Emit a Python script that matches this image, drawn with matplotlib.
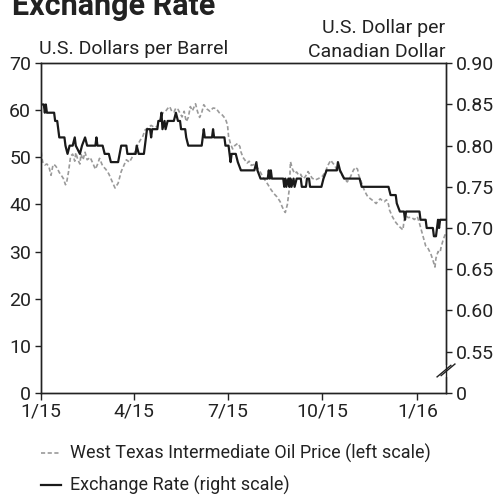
import matplotlib
matplotlib.use('Agg')
import matplotlib.pyplot as plt
import pandas as pd

plt.rcParams['font.family'] = ['Roboto', 'DejaVu Sans']

START = pd.Timestamp('2015-01-01')

# exchange rate, U.S. dollar per Canadian dollar (days after 1 Jan 2015)
er_day = [0, 3, 4, 5, 6, 13, 14, 16, 18, 23, 24, 26, 28, 31, 33, 34, 38, 40, 43, 45,
          53, 54, 55, 60, 62, 66, 68, 75, 78, 83, 84, 92, 93, 95, 100, 103, 106, 107, 108, 113,
          114, 116, 117, 118, 120, 121, 123, 129, 131, 133, 135, 136, 140, 141, 143, 156, 158, 159, 166, 167,
          168, 178, 179, 182, 184, 185, 189, 191, 194, 207, 209, 210, 213, 220, 221, 222, 223, 224, 235, 236,
          237, 238, 240, 241, 242, 243, 245, 246, 248, 252, 253, 257, 258, 260, 261, 272, 274, 277, 287, 288,
          290, 294, 309, 311, 337, 339, 344, 345, 348, 352, 353, 354, 367, 368, 373, 374, 380, 381, 383, 385,
          386, 387, 393]
er_rate = [0.85, 0.85, 0.84, 0.85, 0.84, 0.84, 0.83, 0.83, 0.81, 0.81, 0.80, 0.79, 0.80, 0.80, 0.81, 0.80, 0.79, 0.80, 0.81, 0.80,
           0.80, 0.81, 0.80, 0.80, 0.79, 0.79, 0.78, 0.78, 0.80, 0.80, 0.79, 0.79, 0.80, 0.79, 0.79, 0.82, 0.82, 0.81, 0.82, 0.82,
           0.83, 0.83, 0.84, 0.82, 0.83, 0.82, 0.83, 0.83, 0.84, 0.83, 0.83, 0.82, 0.82, 0.81, 0.80, 0.80, 0.82, 0.81, 0.81, 0.82,
           0.81, 0.81, 0.80, 0.80, 0.78, 0.79, 0.79, 0.78, 0.77, 0.77, 0.78, 0.77, 0.76, 0.76, 0.77, 0.76, 0.77, 0.76, 0.76, 0.75,
           0.76, 0.75, 0.76, 0.75, 0.76, 0.75, 0.76, 0.75, 0.76, 0.76, 0.75, 0.75, 0.76, 0.76, 0.75, 0.75, 0.76, 0.77, 0.77, 0.78,
           0.77, 0.76, 0.76, 0.75, 0.75, 0.74, 0.74, 0.73, 0.72, 0.72, 0.71, 0.72, 0.72, 0.71, 0.71, 0.70, 0.70, 0.69, 0.69, 0.71,
           0.70, 0.71, 0.71]

# West Texas Intermediate, U.S. dollars per barrel
oil_day = [0, 1, 2, 4, 6, 8, 10, 12, 14, 16, 18, 20, 22, 24, 25, 27, 29, 31, 33, 34,
           36, 38, 39, 41, 43, 45, 48, 51, 53, 55, 57, 60, 63, 66, 68, 70, 72, 75, 78, 80,
           83, 86, 89, 92, 94, 96, 99, 101, 104, 107, 110, 113, 115, 117, 118, 121, 123, 125, 127, 129,
           131, 133, 135, 137, 139, 141, 143, 145, 147, 149, 150, 152, 154, 156, 158, 161, 164, 167, 170, 173,
           176, 179, 181, 182, 184, 186, 188, 191, 193, 194, 196, 198, 200, 202, 204, 207, 209, 211, 213, 216,
           220, 223, 226, 229, 232, 234, 236, 237, 239, 241, 242, 244, 246, 248, 250, 252, 254, 256, 258, 259,
           261, 263, 266, 269, 273, 276, 278, 281, 283, 285, 287, 289, 291, 294, 297, 300, 303, 305, 307, 308,
           310, 312, 314, 317, 319, 322, 325, 327, 329, 331, 333, 335, 337, 338, 341, 344, 347, 349, 351, 352,
           354, 356, 359, 362, 365, 367, 369, 370, 373, 375, 378, 380, 382, 383, 385, 387, 388, 390, 392]
oil_price = [52.5, 50.0, 49.0, 48.4, 48.6, 48.0, 46.2, 48.5, 48.3, 47.7, 46.8, 46.2, 45.5, 44.2, 44.5, 47.0, 50.3, 50.7, 49.2, 51.0,
             49.5, 48.6, 50.7, 49.5, 51.1, 49.5, 50.0, 48.5, 47.5, 48.5, 49.8, 48.2, 47.5, 46.5, 45.5, 44.5, 43.5, 44.5, 47.0, 48.0,
             49.5, 49.0, 50.2, 51.5, 52.6, 53.5, 54.5, 55.8, 56.3, 56.8, 56.4, 56.6, 57.7, 58.5, 59.4, 59.8, 60.4, 60.8, 59.8, 59.6,
             60.5, 60.2, 59.4, 58.6, 59.8, 57.6, 58.5, 60.8, 59.9, 60.9, 61.4, 59.7, 58.5, 59.5, 61.2, 60.3, 59.8, 60.5, 60.4, 59.5,
             59.0, 58.2, 56.9, 54.5, 52.8, 51.8, 52.5, 53.0, 52.3, 51.2, 50.0, 49.4, 48.8, 49.2, 48.3, 48.5, 48.2, 47.4, 46.8, 45.6,
             44.3, 43.2, 42.3, 41.6, 40.6, 39.5, 38.6, 38.3, 40.0, 43.5, 49.1, 47.5, 46.6, 46.9, 46.2, 46.4, 45.5, 45.8, 46.5, 47.0,
             46.3, 45.6, 45.2, 45.5, 46.0, 47.0, 48.2, 49.4, 48.8, 48.3, 47.2, 47.5, 46.5, 45.6, 44.8, 45.8, 47.3, 47.9, 47.5, 46.3,
             45.2, 43.9, 42.8, 41.6, 41.3, 40.8, 40.2, 40.8, 41.2, 40.8, 40.6, 41.0, 40.0, 38.8, 37.3, 36.2, 35.4, 35.0, 34.6, 36.5,
             37.6, 37.2, 37.3, 36.8, 37.4, 36.0, 34.4, 33.6, 31.2, 30.8, 29.5, 28.2, 26.7, 28.6, 30.0, 29.8, 31.0, 32.5, 33.7]

left_ticks = [0, 10, 20, 30, 40, 50, 60, 70]
right_ticks = [0.50, 0.55, 0.60, 0.65, 0.70, 0.75, 0.80, 0.85, 0.90]
right_labels = ['0', '0.55', '0.60', '0.65', '0.70', '0.75', '0.80', '0.85', '0.90']
x_ticks = ['2015-01-01', '2015-04-01', '2015-07-01', '2015-10-01', '2016-01-01']
x_labels = ['1/15', '4/15', '7/15', '10/15', '1/16']

er_dates = START + pd.to_timedelta(er_day, unit='D')
oil_dates = START + pd.to_timedelta(oil_day, unit='D')

FS = 14
W, H = 499, 495
fig = plt.figure(figsize=(W / 100, H / 100), dpi=100)
ax = fig.add_axes([40.7 / W, 102.3 / H, 405.3 / W, 329.4 / H])
ax2 = ax.twinx()

oil_line, = ax.plot(oil_dates, oil_price, color='#9a9a9a', lw=1.2, dashes=(2.5, 1.5),
                    label='West Texas Intermediate Oil Price (left scale)')
er_line, = ax2.plot(er_dates, er_rate, color='#1a1a1a', lw=1.6,
                    label='Exchange Rate (right scale)')

ax.set_xlim(START, pd.Timestamp('2016-01-28 17:00'))
ax.set_ylim(0, 70)
ax2.set_ylim(0.5, 0.9)
ax.set_yticks(left_ticks)
ax2.set_yticks(right_ticks)
ax2.set_yticklabels(right_labels)
ax.set_xticks(pd.to_datetime(x_ticks))
ax.set_xticklabels(x_labels)

for a in (ax, ax2):
    for s in a.spines.values():
        s.set_linewidth(1.0)
        s.set_color('#222222')
    a.tick_params(labelsize=FS, length=4, width=1.0, color='#222222', pad=3, labelcolor='#222222')
ax.tick_params(axis='x', length=5, pad=2)

# axis break on the right scale
br = dict(transform=ax.transAxes, color='#222222', lw=1.0, clip_on=False)
ax.plot([1, 1], [0.054, 0.078], transform=ax.transAxes, color='white', lw=3, clip_on=False, zorder=5)
ax.plot([1 - 0.022, 1 + 0.012], [0.048, 0.083], zorder=6, **br)
ax.plot([1 - 0.012, 1 + 0.022], [0.052, 0.087], zorder=6, **br)

fig.text(12 / W, 1 - 15 / H, 'Exchange Rate', fontsize=22, fontweight='bold',
         color='#222222', ha='left', va='baseline')
fig.text(39 / W, 1 - 54 / H, 'U.S. Dollars per Barrel', fontsize=FS,
         color='#222222', ha='left', va='baseline')
fig.text(445 / W, 1 - 57 / H, 'U.S. Dollar per\nCanadian Dollar', fontsize=FS,
         color='#222222', ha='right', va='baseline', linespacing=1.45)

fig.legend(handles=[oil_line, er_line], loc='upper left', bbox_to_anchor=(34 / W, 1 - 437 / H),
           frameon=False, fontsize=13, handlelength=1.1, handletextpad=0.5,
           labelspacing=0.7, borderaxespad=0, labelcolor='#222222')

fig.savefig('out.png', dpi=100)
